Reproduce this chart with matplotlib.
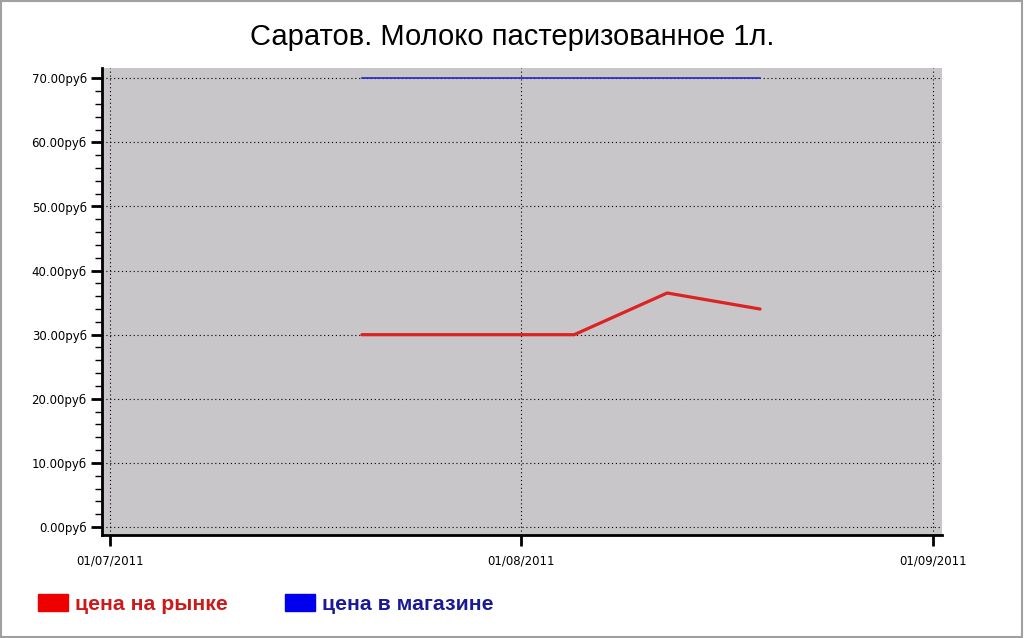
import datetime as dt
import matplotlib
matplotlib.use('Agg')
import matplotlib.pyplot as plt
import matplotlib.dates as mdates
from matplotlib.patches import Rectangle
from matplotlib.ticker import MultipleLocator, FuncFormatter

# data
dates = ['2011-07-20', '2011-07-29', '2011-08-05', '2011-08-12', '2011-08-19']
market_price = [30.0, 30.0, 30.0, 36.5, 34.0]
shop_price = [70.0, 70.0, 70.0, 70.0, 70.0]
tick_dates = ['2011-07-01', '2011-08-01', '2011-09-01']

x = [dt.datetime.strptime(d, '%Y-%m-%d') for d in dates]
xt = [dt.datetime.strptime(d, '%Y-%m-%d') for d in tick_dates]

plt.rcParams['font.family'] = ['Liberation Sans', 'DejaVu Sans']

fig = plt.figure(figsize=(10.24, 6.38), dpi=100)
ax = fig.add_axes([102 / 1024, 1 - 535 / 638, (942 - 102) / 1024, (535 - 68) / 638])
ax.set_facecolor('#c8c6c8')

ax.plot(x, market_price, color='#dd2222', lw=2.3, solid_capstyle='round')
ax.plot(x, shop_price, color='#2424c8', lw=1.2)

ax.set_xlim(dt.datetime(2011, 6, 30, 10), dt.datetime(2011, 9, 1, 17))
ax.set_ylim(-1.25, 71.6)

ax.set_xticks(xt)
ax.xaxis.set_major_formatter(mdates.DateFormatter('%d/%m/%Y'))
ax.yaxis.set_major_locator(MultipleLocator(10))
ax.yaxis.set_minor_locator(MultipleLocator(2))
ax.yaxis.set_major_formatter(FuncFormatter(lambda v, p: '%.2fруб' % v))

ax.grid(True, which='major', color='black', linestyle=(0, (1, 2.5)), lw=0.8)
ax.tick_params(axis='both', which='major', direction='out', length=8, width=2,
               labelsize=8.5, colors='black', pad=3)
ax.tick_params(axis='y', which='minor', direction='out', length=5, width=1)
ax.tick_params(axis='x', pad=6)
for lab in ax.get_xticklabels() + ax.get_yticklabels():
    lab.set_family('DejaVu Sans')

for side in ['top', 'right']:
    ax.spines[side].set_visible(False)
ax.spines['left'].set_linewidth(2)
ax.spines['bottom'].set_linewidth(2)

fig.text(0.5, 1 - 37 / 638, 'Саратов. Молоко пастеризованное 1л.',
         ha='center', va='center', fontsize=21)

# legend at the bottom
fig.patches.append(Rectangle((38 / 1024, 1 - 611 / 638), 30 / 1024, 17 / 638,
                             transform=fig.transFigure, color='#ee0000'))
fig.text(75 / 1024, 1 - 604 / 638, 'цена на рынке', color='#cc1a1a',
         fontsize=15.3, fontweight='bold', va='center')
fig.patches.append(Rectangle((285 / 1024, 1 - 611 / 638), 30 / 1024, 17 / 638,
                             transform=fig.transFigure, color='#0000ee'))
fig.text(322 / 1024, 1 - 604 / 638, 'цена в магазине', color='#1a1a99',
         fontsize=15.3, fontweight='bold', va='center')

# thin frame around the picture
fig.patches.append(Rectangle((0.001, 0.002), 0.997, 0.996, transform=fig.transFigure,
                             fill=False, edgecolor='#a0a0a0', lw=1.5))

fig.savefig('out.png', dpi=100)
